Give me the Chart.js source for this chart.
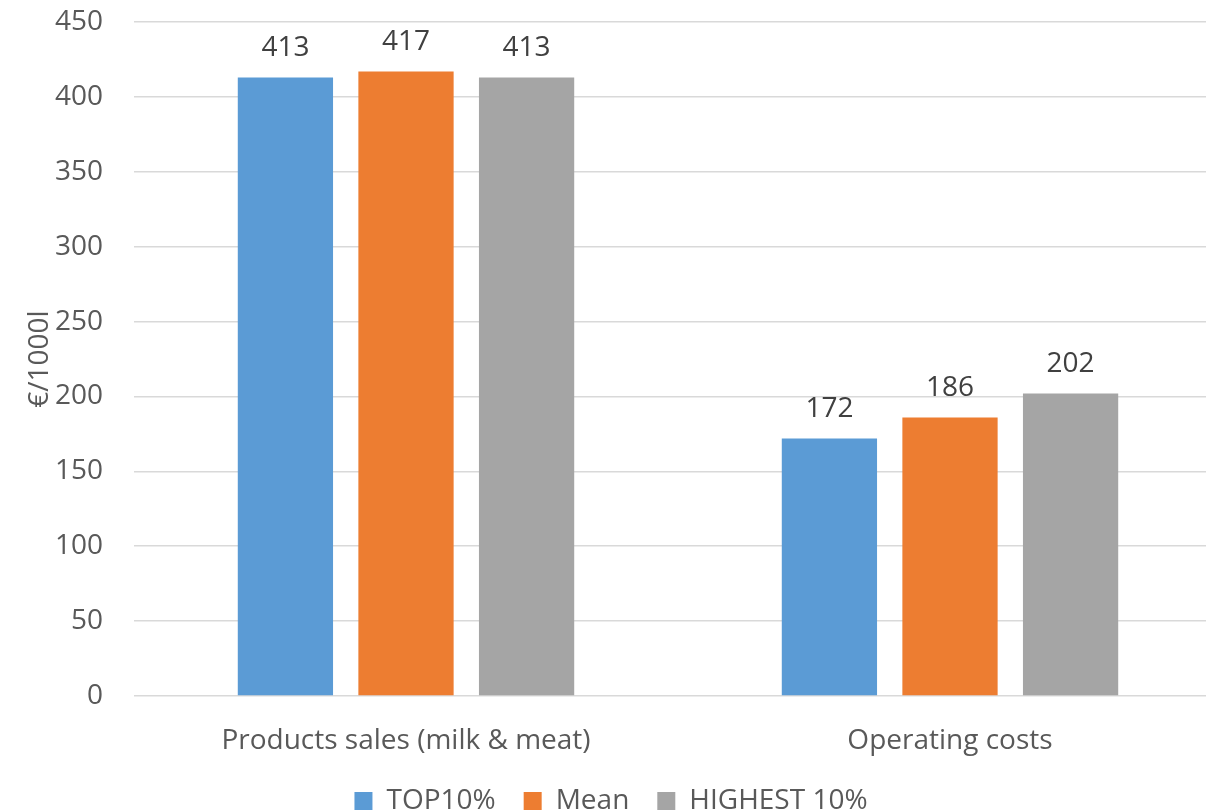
<!DOCTYPE html>
<html>
<head>
<meta charset="utf-8">
<script src="https://cdn.jsdelivr.net/npm/chart.js@4.4.1/dist/chart.umd.min.js"></script>
<style>
    html, body { margin: 0; padding: 0; background: #ffffff; overflow: hidden; }
    #wrap { width: 1222px; height: 825px; position: relative; }
</style>
</head>
<body>
<div id="wrap"><canvas id="costChart"></canvas></div>
<script>
// Chart data
const categories = ['Products sales (milk & meat)', 'Operating costs'];
const seriesNames = ['TOP10%', 'Mean', 'HIGHEST 10%'];
const top10Values = [413, 172];
const meanValues = [417, 186];
const highestValues = [413, 202];
const seriesColors = ['#5b9bd5', '#ed7d31', '#a5a5a5'];

const FONT = '"Open Sans", sans-serif';
const FONT_SIZE = 28;

// Draws the value above each bar
const barValueLabels = {
    id: 'barValueLabels',
    afterDatasetsDraw(chart) {
        const ctx = chart.ctx;
        ctx.save();
        ctx.font = FONT_SIZE + 'px ' + FONT;
        ctx.fillStyle = '#404040';
        ctx.textAlign = 'center';
        ctx.textBaseline = 'middle';
        chart.data.datasets.forEach((ds, i) => {
            chart.getDatasetMeta(i).data.forEach((bar, j) => {
                ctx.fillText(ds.data[j], bar.x, bar.y - 29);
            });
        });
        ctx.restore();
    }
};

const datasets = [top10Values, meanValues, highestValues].map((vals, i) => ({
    label: seriesNames[i],
    data: vals,
    backgroundColor: seriesColors[i],
    borderWidth: 0,
    categoryPercentage: 0.665,
    barPercentage: 0.79
}));

new Chart(document.getElementById('costChart'), {
    type: 'bar',
    data: { labels: categories, datasets: datasets },
    options: {
        responsive: true,
        maintainAspectRatio: false,
        animation: false,
        layout: { padding: { top: 22, right: 0, left: 0, bottom: 0 } },
        plugins: {
            legend: {
                position: 'bottom',
                labels: {
                    font: { family: FONT, size: FONT_SIZE },
                    color: '#595959',
                    boxWidth: 18,
                    boxHeight: 18,
                    padding: 28
                }
            },
            tooltip: { enabled: false }
        },
        scales: {
            x: {
                grid: { display: false },
                border: { display: false },
                ticks: {
                    font: { family: FONT, size: FONT_SIZE },
                    color: '#595959',
                    padding: 20
                },
                afterFit(scale) { scale.height = 63; }
            },
            y: {
                min: 0,
                max: 450,
                ticks: {
                    stepSize: 50,
                    font: { family: FONT, size: FONT_SIZE, lineHeight: 1.2 },
                    color: '#595959',
                    padding: 0
                },
                // invisible tick marks keep the labels clear of the grid
                grid: { color: '#d9d9d9', lineWidth: 1.5, drawTicks: true, tickLength: 31, tickColor: 'rgba(0,0,0,0)' },
                border: { display: false },
                title: {
                    display: true,
                    text: '€/1000l',
                    font: { family: FONT, size: FONT_SIZE },
                    color: '#595959',
                    padding: { top: 23, bottom: 0 }
                },
                afterFit(scale) { scale.width = 134; }
            }
        }
    },
    plugins: [barValueLabels]
});
</script>
</body>
</html>
